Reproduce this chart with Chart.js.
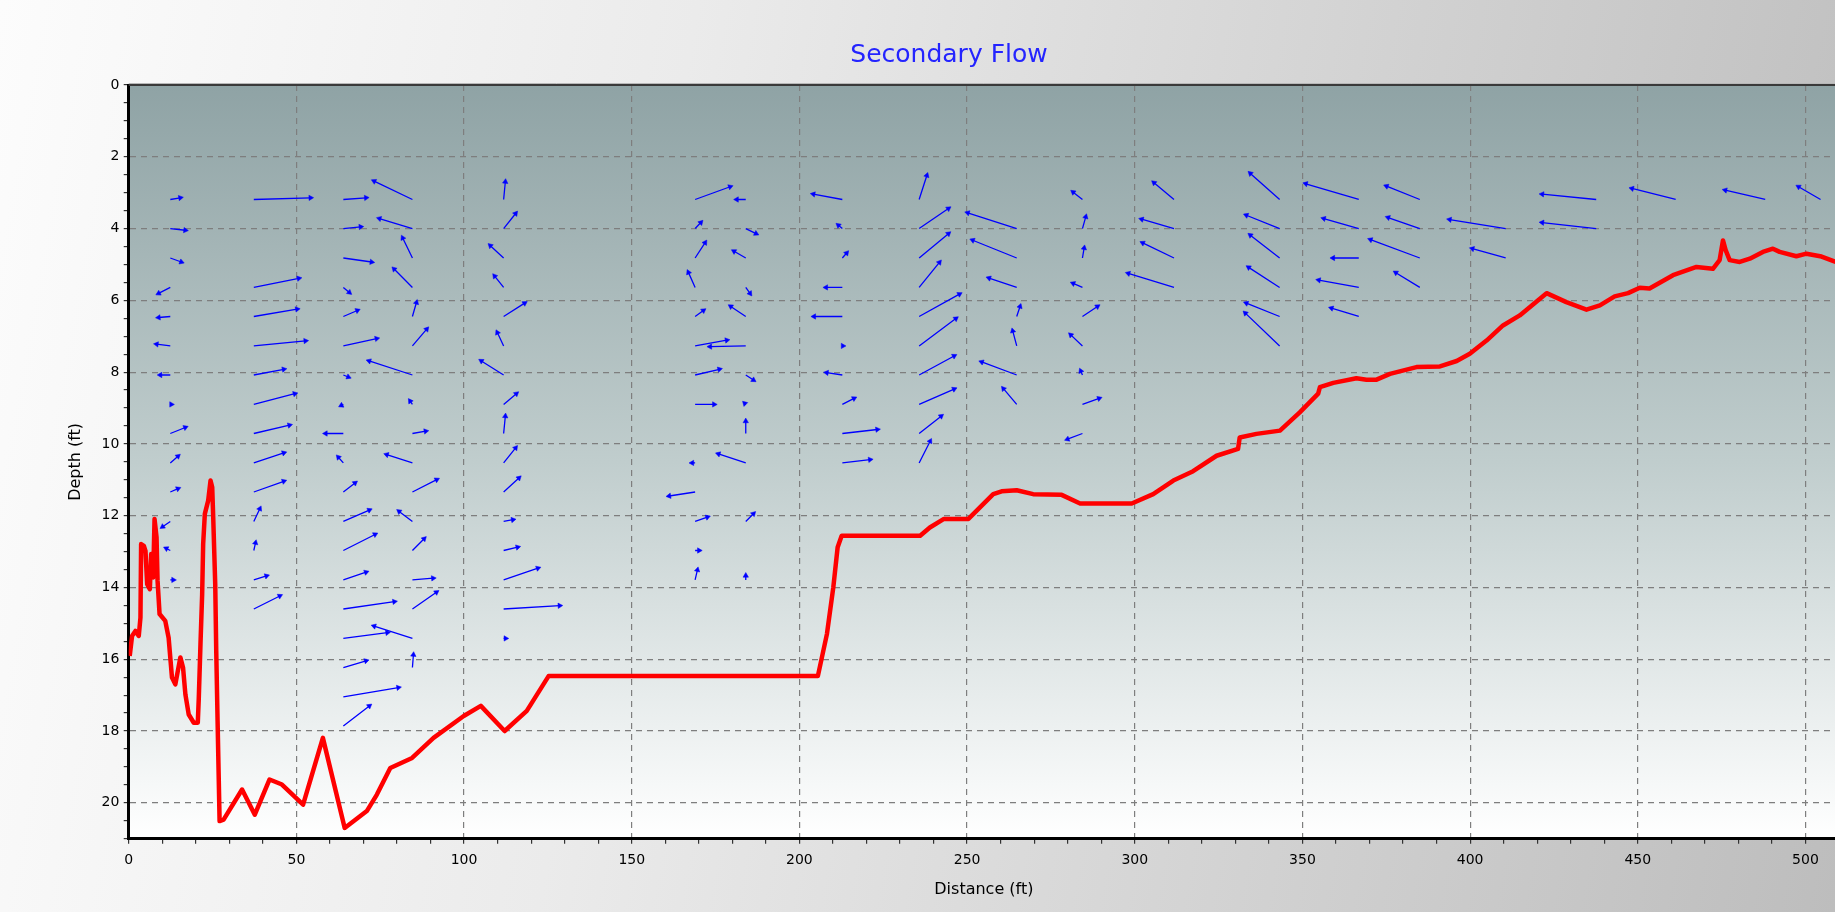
<!DOCTYPE html>
<html><head><meta charset="utf-8">
<script src="https://cdn.jsdelivr.net/npm/chart.js@4.4.1/dist/chart.umd.min.js"></script>
<style>
html,body{margin:0;padding:0;width:1835px;height:912px;overflow:hidden;}
body{background:linear-gradient(100deg,#fcfcfc 0%,#ebebeb 35%,#d2d2d2 70%,#bdbdbd 100%);position:relative;}
#wrap{position:absolute;left:0;top:0;width:1900px;height:912px;}
</style></head><body>
<div id="wrap"><canvas id="c" width="1900" height="912"></canvas></div>
<script>
// ---- Bed profile (distance ft, depth ft) ----
const bedX = [
  0.3, 1.0, 2.0, 3.0, 3.5, 3.7, 4.5, 5.0, 5.5, 6.3,
  6.7, 7.3, 7.7, 8.3, 8.6, 9.2, 10.9, 11.9, 12.9, 13.9,
  15.4, 16.2, 16.9, 17.9, 19.4, 20.6, 20.9, 21.4, 21.9, 22.2,
  22.7, 23.7, 24.4, 24.9, 25.2, 25.8, 26.1, 26.5, 27.1, 28.3,
  33.8, 37.6, 42.0, 45.7, 52.0, 57.9, 64.4, 71.0, 74.0, 78.0,
  84.5, 90.9, 99.9, 105.0, 112.1, 118.7, 125.2, 205.5, 208.2, 210.1,
  211.4, 212.6, 236.0, 238.9, 243.1, 250.4, 257.8, 260.3, 264.8, 269.7,
  278.2, 283.7, 299.1, 305.5, 311.5, 317.4, 324.4, 330.8, 331.3, 336.3,
  343.3, 349.2, 354.7, 355.2, 359.2, 366.1, 369.1, 372.1, 376.1, 384.0,
  391.0, 396.0, 399.9, 404.9, 409.8, 414.8, 422.8, 428.7, 434.7, 438.7,
  443.1, 447.1, 450.6, 453.5, 460.5, 467.5, 472.4, 474.4, 475.4, 476.2,
  477.4, 480.4, 483.4, 487.3, 490.3, 492.3, 497.3, 500.3, 504.4, 509.0
];
const bedDepth = [
  15.91, 15.35, 15.21, 15.35, 14.84, 12.79, 12.84, 12.98, 13.91, 14.05,
  13.07, 13.72, 12.09, 12.60, 13.81, 14.74, 14.93, 15.40, 16.51, 16.70,
  15.95, 16.23, 16.98, 17.54, 17.77, 17.77, 17.07, 15.58, 14.19, 12.79,
  11.95, 11.58, 11.02, 11.21, 12.05, 13.91, 15.77, 17.72, 20.51, 20.47,
  19.63, 20.33, 19.35, 19.49, 20.05, 18.19, 20.70, 20.23, 19.77, 19.03,
  18.75, 18.19, 17.58, 17.30, 18.00, 17.44, 16.47, 16.47, 15.30, 14.00,
  12.88, 12.56, 12.56, 12.33, 12.09, 12.09, 11.40, 11.32, 11.29, 11.40,
  11.42, 11.66, 11.66, 11.40, 11.02, 10.76, 10.33, 10.14, 9.82, 9.72,
  9.63, 9.12, 8.60, 8.42, 8.30, 8.17, 8.21, 8.21, 8.05, 7.86,
  7.84, 7.69, 7.49, 7.12, 6.70, 6.42, 5.80, 6.05, 6.26, 6.14,
  5.89, 5.80, 5.65, 5.67, 5.30, 5.07, 5.12, 4.88, 4.33, 4.60,
  4.88, 4.93, 4.84, 4.65, 4.56, 4.65, 4.77, 4.70, 4.77, 4.93
];

// ---- Secondary flow vectors ----
const stations = [12.4, 37.3, 64.0, 84.6, 111.8, 168.9, 184.0, 212.8, 235.7, 264.8,
                  284.4, 311.7, 343.2, 366.8, 385.0, 410.6, 437.6, 461.3, 488.0, 504.5];
const binDepths = [3.19, 4.00, 4.82, 5.64, 6.45, 7.27, 8.08, 8.90, 9.71, 10.53,
                   11.34, 12.16, 12.97, 13.79, 14.60, 15.42, 16.23, 17.05, 17.86];
// horizontal component (+ = toward larger distance), per station, per depth bin
const velU = [
  [10, 15, 11, -11.7, -11.7, -13.7, -10, 1, 15, 7.7, 7.7, -7.7, -4, 3],
  [56.7, null, null, 45, 43.3, 51.7, 30, 41, 35.7, 30, 30, 6, 1.7, 12.7, 26],
  [22.7, 17.3, 28.3, 6, 14, 33.3, 5, -2, -17.7, -5, 11.7, 26, 31.7, 22.7, 51, 44, 22.7, 55, 26],
  [-38.3, -33, -9.7, -18.3, 4, 14.3, -43.3, -2.3, 13.3, -25.7, 24.3, -13.3, 11.7, 20.7, 24, -38.3, 1],
  [1.7, 12, -13.3, -9, 21, -6.3, -22.3, 12.7, 1.7, 12, 15.3, 9.3, 14, 34.3, 56, 2],
  [35, 5.7, 10, -6.7, 8.3, 31.7, 24.3, 19, null, -3, -26, 12.3, 4, 2.3],
  [-9, 10.3, -11.7, 4.3, -15, -35.7, 7.7, -1, 0, -27.3, null, 7.7, null, 0],
  [-29, -4, 4.3, -16.3, -28.3, 0.5, -15.7, 11.7, 35, 27.7],
  [7.7, 29.3, 29.3, 20.3, 40.3, 36.7, 35, 35, 22, 11],
  [null, -49, -44, -27.7, 3.3, -4, -35, -13.3],
  [-9.3, 3.3, 1.7, -9.3, 15, -11.7, -1.7, 16.7, -15],
  [-20, -32.3, -31.3, -45.7],
  [-29.3, -33.3, -29.3, -31, -33.3, -34.3],
  [-53, -35, -25.7, -40, -27.3],
  [-33.3, -31.7, -49.3, -24],
  [null, -56, -33.3],
  [-54, -54],
  [-43.7],
  [-40],
  [-22]
];
// vertical component (+ = downward), per station, per depth bin
const velV = [
  [-1.7, 1.7, 4, 6, 1, -1.7, 0, 0, -6, -6.7, -3.3, 5.3, -2, 0],
  [-1.7, null, null, -9, -7.3, -5, -5.7, -10.7, -8.3, -10, -10.7, -12.7, -7.7, -4, -13],
  [-1.7, -1.7, 4, 5, -6, -7.3, 2, 1, 0, -5.7, -9, -11.3, -16, -7.7, -7.3, -5.7, -6.7, -9.3, -20],
  [-18.3, -10, -20, -18.3, -14, -16.7, -14, -3.3, -2.3, -8.3, -12.3, -10, -11.7, -1.7, -16.7, -12.3, -12.7],
  [-17.7, -15, -12.3, -11.3, -13.3, -13.3, -14, -10.7, -17.3, -15, -14, -1.7, -3.3, -11.7, -3.3, 0],
  [-12.7, -6, -15.3, -15, -6, -5.7, -5.7, 0, null, 0, 4, -4.3, 0, -10],
  [0, 5, -6.7, 6, -10, 0.7, 5, -1, -12.3, -9, null, -7.7, null, -4.3],
  [-5.3, -3.3, -5, 0, 0, 0, -2.3, -6, -4, -3.3],
  [-24, -20, -24.3, -25, -22.3, -27.3, -19, -15.3, -17.3, -21.7],
  [null, -15.7, -17.7, -9.3, -10, -15, -13, -15.7],
  [-7.3, -11.7, -10, -4, -10, -11, -4, -6, 5.7],
  [-16.7, -9.3, -15, -14],
  [-26, -13.3, -22.7, -20, -13.3, -32.7],
  [-15.7, -10, 0, -7.3, -8.3],
  [-13.3, -11, -18.3, -14.7],
  [null, -9, -9.3],
  [-5.3, -6],
  [-11],
  [-9.3],
  [-12.7]
];
// vector plotting scale (axis units per velocity unit)
const VEC_SCALE_X = 1 / 3.352;
const VEC_SCALE_Y = 1 / 35.81;

// tick settings
const xTickMajor = 50, xTickMinor = 10, xMax = 510;
const yTickMajor = 2, yTickMinor = 0.5, yMax = 21;

// ---- build datasets ----
const bedData = bedX.map((x, i) => ({x: x, y: bedDepth[i]}));
const shaftData = [], headData = [], tailData = [];
stations.forEach((sx, i) => {
  velU[i].forEach((u, k) => {
    const v = velV[i][k];
    if (u === null || v === null) return;
    const y0 = binDepths[k];
    const hx = sx + u * VEC_SCALE_X, hy = y0 + v * VEC_SCALE_Y;
    shaftData.push({x: sx, y: y0}, {x: hx, y: hy}, {x: hx, y: null});
    headData.push({x: hx, y: hy});
    tailData.push({x: sx, y: y0});
  });
});

const plotBg = {
  id: 'plotBg',
  beforeDraw(chart) {
    const {ctx, chartArea: a} = chart;
    const g = ctx.createLinearGradient(0, a.top, 0, a.bottom);
    g.addColorStop(0, '#8fa3a5');
    g.addColorStop(0.5, '#c0cdcd');
    g.addColorStop(1, '#ffffff');
    ctx.save();
    ctx.fillStyle = g;
    ctx.fillRect(a.left, a.top, a.right - a.left, a.bottom - a.top);
    ctx.restore();
  },
  afterDatasetsDraw(chart) {
    const {ctx, chartArea: a} = chart;
    ctx.save();
    ctx.strokeStyle = '#3a3a3a';
    ctx.lineWidth = 2;
    ctx.beginPath();
    ctx.moveTo(a.left, a.top);
    ctx.lineTo(a.right, a.top);
    ctx.stroke();
    ctx.strokeStyle = '#b8b8b8';
    ctx.lineWidth = 1;
    ctx.beginPath();
    ctx.moveTo(a.left, a.top - 1.5);
    ctx.lineTo(a.right, a.top - 1.5);
    ctx.stroke();
    ctx.restore();
  }
};

const isMult = (v, m) => Math.abs(v / m - Math.round(v / m)) < 1e-6;
const FONT = "'DejaVu Sans', Verdana, sans-serif";

new Chart(document.getElementById('c'), {
  type: 'line',
  data: {
    datasets: [
      { label: 'Bed', data: bedData, borderColor: '#ff0000', borderWidth: 4.5,
        pointRadius: 0, tension: 0, fill: false, borderJoinStyle: 'round' },
      { label: 'Vectors', data: shaftData, borderColor: '#0000ff', borderWidth: 1.3,
        pointRadius: 0, spanGaps: false, tension: 0, fill: false },
      { label: 'Heads', data: headData, showLine: false, pointStyle: 'triangle',
        pointRadius: 3.1, pointBackgroundColor: '#0000ff', pointBorderColor: '#0000ff',
        pointBorderWidth: 0.5,
        rotation: (ctx) => {
          const c = ctx.chart, i = ctx.dataIndex;
          if (!c.scales.x || !tailData[i]) return 0;
          const dx = c.scales.x.getPixelForValue(headData[i].x) - c.scales.x.getPixelForValue(tailData[i].x);
          const dy = c.scales.y.getPixelForValue(headData[i].y) - c.scales.y.getPixelForValue(tailData[i].y);
          return Math.atan2(dx, -dy) * 180 / Math.PI;
        } }
    ]
  },
  options: {
    responsive: false,
    animation: false,
    events: [],
    layout: { padding: { left: 59, right: 61, top: 20, bottom: 6 } },
    plugins: {
      legend: { display: false },
      tooltip: { enabled: false },
      title: { display: true, text: 'Secondary Flow', color: '#2424ff',
               font: { family: FONT, size: 25, weight: 'normal' },
               padding: { top: 20, bottom: 15 } }
    },
    scales: {
      x: {
        type: 'linear', min: 0, max: xMax,
        ticks: { stepSize: xTickMinor, autoSkip: false, color: '#000', maxRotation: 0,
                 font: { family: FONT, size: 14 }, padding: 8.4,
                 callback: (v) => isMult(v, xTickMajor) ? String(v) : '' },
        grid: { color: (c) => (c.tick && isMult(c.tick.value, xTickMajor) && c.tick.value !== 0) ? '#7e7e7e' : 'rgba(0,0,0,0)',
                tickColor: '#333', tickLength: 5, lineWidth: 1.2 },
        border: { display: true, color: '#000', width: 3, dash: [6, 5] },
        title: { display: true, text: 'Distance (ft)', color: '#000',
                 font: { family: FONT, size: 16 }, padding: { top: 2.5, bottom: 7 } }
      },
      y: {
        type: 'linear', min: 0, max: yMax, reverse: true,
        ticks: { stepSize: yTickMinor, autoSkip: false, color: '#000',
                 font: { family: FONT, size: 14 }, padding: 4.4,
                 callback: (v) => isMult(v, yTickMajor) ? String(v) : '' },
        grid: { color: (c) => (c.tick && isMult(c.tick.value, yTickMajor) && c.tick.value !== 0) ? '#7e7e7e' : 'rgba(0,0,0,0)',
                tickColor: '#333', tickLength: 5, lineWidth: 1.2 },
        border: { display: true, color: '#000', width: 3, dash: [6, 5] },
        title: { display: true, text: 'Depth (ft)', color: '#000',
                 font: { family: FONT, size: 16 }, padding: { top: 7.4, bottom: 11.5 } }
      }
    }
  },
  plugins: [plotBg]
});
</script>
</body></html>
